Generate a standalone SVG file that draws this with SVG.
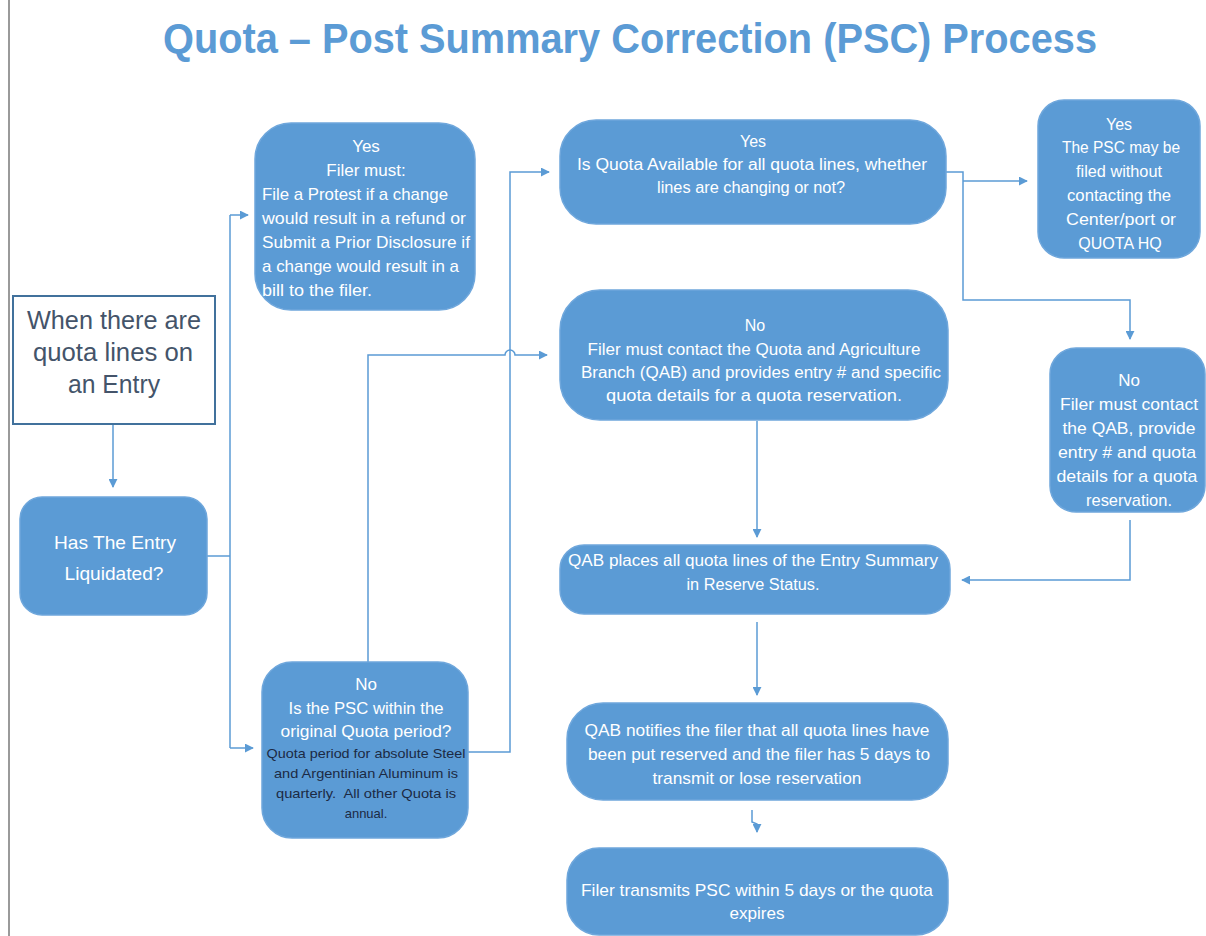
<svg xmlns="http://www.w3.org/2000/svg" width="1206" height="936" viewBox="0 0 1206 936">
<style>
.box{fill:#5b9bd5;stroke:#6fa7dc;stroke-width:1.5}
.t{font-family:"Liberation Sans",Arial,sans-serif;fill:#ffffff;font-size:16px;text-anchor:middle}
.s17{font-size:17px}
.tl{text-anchor:start}
.dk{fill:#1b2a44;font-size:13px}
.st{fill:#44546a;font-size:25px}
.c{fill:none;stroke:#5b9bd5;stroke-width:1.5}
</style>
<defs>
<marker id="ah" viewBox="0 0 10 10" refX="9" refY="5" markerWidth="9" markerHeight="9" markerUnits="userSpaceOnUse" orient="auto">
<path d="M0,0 L10,5 L0,10 z" fill="#5b9bd5"/>
</marker>
</defs>
<rect width="1206" height="936" fill="#ffffff"/>
<line x1="9" y1="0" x2="9" y2="936" stroke="#9a9a9a" stroke-width="2"/>
<text x="163" y="53" textLength="934" lengthAdjust="spacingAndGlyphs" font-family="Liberation Sans,Arial,sans-serif" font-weight="bold" font-size="42" fill="#5b9bd5">Quota – Post Summary Correction (PSC) Process</text>

<g id="connectors">
<path class="c" d="M113,424 V487" marker-end="url(#ah)"/>
<path class="c" d="M207,556 H230"/>
<path class="c" d="M230,215 V748"/>
<path class="c" d="M230,215 H248" marker-end="url(#ah)"/>
<path class="c" d="M230,748 H253" marker-end="url(#ah)"/>
<path class="c" d="M368,662 V355 H505 A5,5 0 0 1 515,355 H547" marker-end="url(#ah)"/>
<path class="c" d="M468,752 H510 V172 H549" marker-end="url(#ah)"/>
<path class="c" d="M946,172 H963 V300 H1130 V339" marker-end="url(#ah)"/>
<path class="c" d="M963,181 H1027" marker-end="url(#ah)"/>
<path class="c" d="M1130,520 V580 H962" marker-end="url(#ah)"/>
<path class="c" d="M757,421 V537" marker-end="url(#ah)"/>
<path class="c" d="M757,622 V695" marker-end="url(#ah)"/>
<path class="c" d="M752,810 V822 L757,824 V832" marker-end="url(#ah)"/>
</g>

<g id="start">
<rect x="13" y="296" width="202" height="128" fill="#ffffff" stroke="#41719c" stroke-width="2"/>
<text class="t st" x="114" y="329" textLength="174" lengthAdjust="spacingAndGlyphs">When there are</text>
<text class="t st" x="113" y="361" textLength="160" lengthAdjust="spacingAndGlyphs">quota lines on</text>
<text class="t st" x="114" y="393" textLength="92" lengthAdjust="spacingAndGlyphs">an Entry</text>
</g>

<g id="liquidated">
<rect class="box" x="20" y="497" width="187" height="118" rx="22"/>
<text class="t" x="115" y="549" style="font-size:19px" textLength="122" lengthAdjust="spacingAndGlyphs">Has The Entry</text>
<text class="t" x="114" y="580" style="font-size:19px" textLength="99" lengthAdjust="spacingAndGlyphs">Liquidated?</text>
</g>

<g id="yes-protest">
<rect class="box" x="255" y="123" width="220" height="187" rx="36"/>
<text class="t s17" x="366" y="152">Yes</text>
<text class="t s17" x="366" y="176">Filer must:</text>
<text class="t s17 tl" x="262" y="200" textLength="186" lengthAdjust="spacingAndGlyphs">File a Protest if a change</text>
<text class="t s17 tl" x="262" y="224" textLength="204" lengthAdjust="spacingAndGlyphs">would result in a refund or</text>
<text class="t s17 tl" x="262" y="248" textLength="208" lengthAdjust="spacingAndGlyphs">Submit a Prior Disclosure if</text>
<text class="t s17 tl" x="262" y="272" textLength="197" lengthAdjust="spacingAndGlyphs">a change would result in a</text>
<text class="t s17 tl" x="262" y="296" textLength="110" lengthAdjust="spacingAndGlyphs">bill to the filer.</text>
</g>

<g id="no-period">
<rect class="box" x="262" y="662" width="206" height="176" rx="30"/>
<text class="t s17" x="366" y="690">No</text>
<text class="t s17" x="366" y="714" textLength="155" lengthAdjust="spacingAndGlyphs">Is the PSC within the</text>
<text class="t s17" x="366" y="737" textLength="171" lengthAdjust="spacingAndGlyphs">original Quota period?</text>
<text class="t dk" x="366" y="758" textLength="199" lengthAdjust="spacingAndGlyphs">Quota period for absolute Steel</text>
<text class="t dk" x="366" y="778" textLength="184" lengthAdjust="spacingAndGlyphs">and Argentinian Aluminum is</text>
<text class="t dk" x="366" y="798" xml:space="preserve" textLength="180" lengthAdjust="spacingAndGlyphs">quarterly.  All other Quota is</text>
<text class="t dk" x="366" y="818">annual.</text>
</g>

<g id="yes-available">
<rect class="box" x="560" y="120" width="386" height="104" rx="36"/>
<text class="t" x="753" y="147">Yes</text>
<text class="t" x="752" y="170" textLength="350" lengthAdjust="spacingAndGlyphs">Is Quota Available for all quota lines, whether</text>
<text class="t" x="751" y="193" textLength="188" lengthAdjust="spacingAndGlyphs">lines are changing or not?</text>
</g>

<g id="no-contact-qab">
<rect class="box" x="560" y="290" width="388" height="130" rx="40"/>
<text class="t" x="755" y="331">No</text>
<text class="t" x="754" y="355" textLength="333" lengthAdjust="spacingAndGlyphs">Filer must contact the Quota and Agriculture</text>
<text class="t" x="761" y="378" textLength="360" lengthAdjust="spacingAndGlyphs">Branch (QAB) and provides entry # and specific</text>
<text class="t" x="754" y="401" textLength="296" lengthAdjust="spacingAndGlyphs">quota details for a quota reservation.</text>
</g>

<g id="yes-psc-filed">
<rect class="box" x="1038" y="100" width="162" height="158" rx="26"/>
<text class="t" x="1119" y="130">Yes</text>
<text class="t" x="1121" y="153" textLength="118" lengthAdjust="spacingAndGlyphs">The PSC may be</text>
<text class="t" x="1119" y="177" textLength="86" lengthAdjust="spacingAndGlyphs">filed without</text>
<text class="t" x="1119" y="201" textLength="104" lengthAdjust="spacingAndGlyphs">contacting the</text>
<text class="t" x="1121" y="225" textLength="110" lengthAdjust="spacingAndGlyphs">Center/port or</text>
<text class="t" x="1120" y="249">QUOTA HQ</text>
</g>

<g id="no-contact-right">
<rect class="box" x="1050" y="348" width="155" height="164" rx="26"/>
<text class="t s17" x="1129" y="386">No</text>
<text class="t s17" x="1129" y="410" textLength="138" lengthAdjust="spacingAndGlyphs">Filer must contact</text>
<text class="t s17" x="1129" y="434" textLength="133" lengthAdjust="spacingAndGlyphs">the QAB, provide</text>
<text class="t s17" x="1127" y="458" textLength="138" lengthAdjust="spacingAndGlyphs">entry # and quota</text>
<text class="t s17" x="1127" y="482" textLength="141" lengthAdjust="spacingAndGlyphs">details for a quota</text>
<text class="t s17" x="1129" y="506" textLength="86" lengthAdjust="spacingAndGlyphs">reservation.</text>
</g>

<g id="reserve">
<rect class="box" x="560" y="545" width="390" height="69" rx="24"/>
<text class="t" x="753" y="566" textLength="370" lengthAdjust="spacingAndGlyphs">QAB places all quota lines of the Entry Summary</text>
<text class="t" x="753" y="590" textLength="133" lengthAdjust="spacingAndGlyphs">in Reserve Status.</text>
</g>

<g id="notify">
<rect class="box" x="567" y="703" width="381" height="97" rx="36"/>
<text class="t s17" x="757" y="736" textLength="345" lengthAdjust="spacingAndGlyphs">QAB notifies the filer that all quota lines have</text>
<text class="t s17" x="759" y="760" textLength="342" lengthAdjust="spacingAndGlyphs">been put reserved and the filer has 5 days to</text>
<text class="t s17" x="757" y="784" textLength="209" lengthAdjust="spacingAndGlyphs">transmit or lose reservation</text>
</g>

<g id="transmit">
<rect class="box" x="567" y="848" width="381" height="87" rx="32"/>
<text class="t s17" x="757" y="896" textLength="352" lengthAdjust="spacingAndGlyphs">Filer transmits PSC within 5 days or the quota</text>
<text class="t s17" x="757" y="919" textLength="55" lengthAdjust="spacingAndGlyphs">expires</text>
</g>
</svg>
